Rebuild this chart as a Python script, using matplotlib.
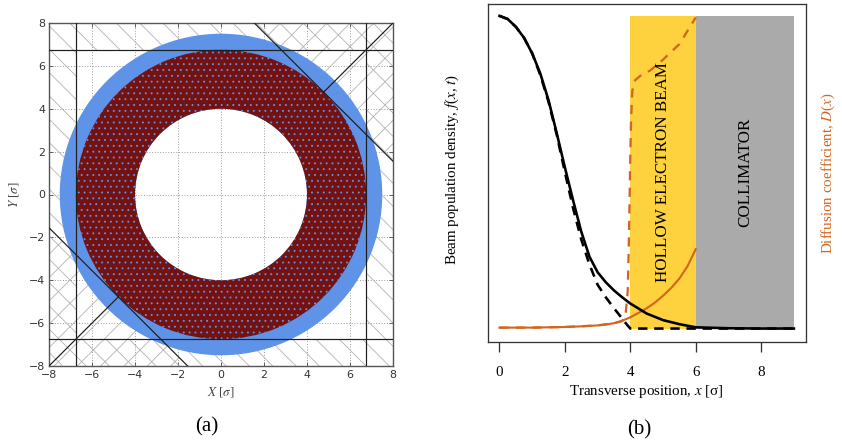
import numpy as np
import matplotlib.pyplot as plt
from matplotlib.patches import Wedge, Rectangle, Polygon

DPI = 70


def pt(px):
    # pixel size -> points at this dpi
    return px * 72 / DPI


plt.rcParams['font.family'] = ['Liberation Serif', 'DejaVu Serif']
plt.rcParams['mathtext.fontset'] = 'stix'
plt.rcParams['hatch.linewidth'] = pt(0.8)

# ---- (a) transverse beam cross-section [sigma] ----
lim_a = 8
ticks_a = [-8, -6, -4, -2, 0, 2, 4, 6, 8]
jaw = 6.75            # horizontal / vertical collimator half gap
skew = 9.55           # skew jaw edge: |x + y| = skew
halo_r = [4.0, 7.5]   # hollow halo: inner / outer radius
core_r = [4.0, 6.75]  # inner / outer radius of the particle annulus

# ---- (b) profiles ----
x_f = [0, 0.25, 0.5, 0.75, 1.0, 1.25, 1.5, 1.75, 2.0, 2.25, 2.5, 2.75,
       3.0, 3.25, 3.5, 3.75, 4.0, 4.5, 5.0, 5.5, 6.0, 7.0, 8.0, 9.0]
f_solid = [1.0, 0.99, 0.965, 0.93, 0.88, 0.815, 0.73, 0.625, 0.515, 0.41,
           0.31, 0.23, 0.18, 0.148, 0.122, 0.10, 0.08, 0.048, 0.027, 0.014,
           0.004, 0.001, 0.0, 0.0]
x_fd = [0, 0.25, 0.5, 0.75, 1.0, 1.25, 1.5, 1.75, 2.0, 2.25, 2.5, 2.75,
        3.0, 3.25, 3.5, 3.75, 3.9, 4.0, 5.0, 6.0, 7.0, 8.0, 9.0]
f_dash = [1.0, 0.99, 0.965, 0.93, 0.88, 0.81, 0.725, 0.62, 0.50, 0.385,
          0.285, 0.205, 0.14, 0.10, 0.065, 0.032, 0.012, 0.0, 0.0, 0.0,
          0.0, 0.0, 0.0]
x_D = [0, 0.5, 1.0, 1.5, 2.0, 2.5, 3.0, 3.25, 3.5, 3.75, 4.0, 4.25, 4.5,
       4.75, 5.0, 5.25, 5.5, 5.75, 6.0]
D_solid = [0.003, 0.003, 0.003, 0.004, 0.005, 0.007, 0.01, 0.013, 0.017,
           0.025, 0.036, 0.05, 0.065, 0.083, 0.105, 0.13, 0.16, 0.2, 0.254]
x_Dd = [0, 1.0, 2.0, 3.0, 3.5, 3.75, 3.85, 3.92, 3.96, 3.99, 4.02, 4.06,
        4.15, 4.3, 4.6, 5.0, 5.5, 6.0]
D_dash = [0.003, 0.003, 0.005, 0.01, 0.017, 0.024, 0.04, 0.12, 0.3, 0.5,
          0.66, 0.76, 0.795, 0.808, 0.825, 0.86, 0.91, 0.995]
hebl_band = [4, 6]
coll_band = [6, 9]
xticks_b = [0, 2, 4, 6, 8]

fig = plt.figure(figsize=(842 / DPI, 443 / DPI), dpi=DPI)

# ================= (a) =================
ax = fig.add_axes([49 / 842, 77 / 443, 344 / 842, 343 / 443])
ax.set_xlim(-lim_a, lim_a)
ax.set_ylim(-lim_a, lim_a)

hatch_col = '#b0b0b0'
# hatched jaw areas (single hatch outside the square aperture)
for (x0, y0, w, h) in [(-lim_a, jaw, 2 * lim_a, lim_a - jaw),
                       (-lim_a, -lim_a, 2 * lim_a, lim_a - jaw),
                       (-lim_a, -jaw, lim_a - jaw, 2 * jaw),
                       (jaw, -jaw, lim_a - jaw, 2 * jaw)]:
    ax.add_patch(Rectangle((x0, y0), w, h, facecolor='none', hatch='\\',
                           edgecolor=hatch_col, linewidth=0, zorder=1))
# skew jaws
for s in [1, -1]:
    tri = [(s * (skew - lim_a), s * lim_a), (s * lim_a, s * lim_a),
           (s * lim_a, s * (skew - lim_a))]
    ax.add_patch(Polygon(tri, closed=True, facecolor='none', hatch='/',
                         edgecolor=hatch_col, linewidth=0, zorder=1))

blue = '#5f93e8'
ax.add_patch(Wedge((0, 0), halo_r[1], 0, 360, width=halo_r[1] - halo_r[0],
                   facecolor=blue, edgecolor='none', zorder=2))
ax.add_patch(Wedge((0, 0), core_r[1], 0, 360, width=core_r[1] - core_r[0],
                   facecolor='#741212', edgecolor=blue, linewidth=0,
                   hatch='..', zorder=3))

jaw_kw = dict(color='#1e1e1e', lw=pt(1.2), zorder=4)
for s in [1, -1]:
    ax.plot([-lim_a, lim_a], [s * jaw, s * jaw], **jaw_kw)
    ax.plot([s * jaw, s * jaw], [-lim_a, lim_a], **jaw_kw)
    ax.plot([s * (skew - lim_a), s * lim_a], [s * lim_a, s * (skew - lim_a)],
            **jaw_kw)
    ax.plot([s * skew / 2, s * lim_a], [s * skew / 2, s * lim_a], **jaw_kw)

ax.set_xticks(ticks_a)
ax.set_yticks(ticks_a)
ax.set_xticklabels([str(t).replace('-', '\u2212') for t in ticks_a],
                   family='DejaVu Sans')
ax.set_yticklabels([str(t).replace('-', '\u2212') for t in ticks_a],
                   family='DejaVu Sans')
ax.tick_params(direction='in', top=True, right=True, length=pt(4),
               width=pt(0.8), labelsize=pt(11), labelcolor='#333333',
               color='#444444', pad=pt(4))
ax.grid(True, linestyle=(0, (1, 2)), color='#8a8a8a', lw=pt(0.9), zorder=0)
ax.set_axisbelow(True)
for sp in ax.spines.values():
    sp.set_color('#555555')
    sp.set_linewidth(pt(1.4))
ax.text(0.5, (366 - 392) / 343, r'$X$ [$\sigma$]', transform=ax.transAxes,
        ha='center', va='center', fontsize=pt(13), color='#444444')
ax.text((14 - 49) / 344, 0.5, r'$Y$ [$\sigma$]', transform=ax.transAxes,
        ha='center', va='center', rotation=90, fontsize=pt(13),
        color='#444444')

# ================= (b) =================
bx = fig.add_axes([487.7 / 842, 101 / 443, 318 / 842, 338 / 443])
bx.set_xlim(-0.36, 9.36)
bx.set_ylim(-0.043, 1.038)

bx.add_patch(Rectangle((hebl_band[0], 0), hebl_band[1] - hebl_band[0], 1,
                       facecolor='#fdd23e', edgecolor='none', zorder=1))
bx.add_patch(Rectangle((coll_band[0], 0), coll_band[1] - coll_band[0], 1,
                       facecolor='#aaaaaa', edgecolor='none', zorder=1))
orange = '#d2661e'
bx.plot(x_Dd, D_dash, color=orange, lw=pt(2.3), dashes=(4, 3.2), zorder=2)
bx.plot(x_D, D_solid, color=orange, lw=pt(2.1), zorder=3)
bx.plot(x_fd, f_dash, color='black', lw=pt(2.6), dashes=(3.6, 2.6),
        zorder=4)
bx.plot(x_f, f_solid, color='black', lw=pt(2.6), zorder=5)

bx.text(5.0, 0.5, 'HOLLOW ELECTRON BEAM', rotation=90, ha='center',
        va='center', fontsize=pt(17), zorder=6)
bx.text(7.5, 0.5, 'COLLIMATOR', rotation=90, ha='center', va='center',
        fontsize=pt(17), zorder=6)

bx.set_xticks(xticks_b)
bx.set_yticks([])
bx.tick_params(direction='out', length=pt(10), width=pt(1.3),
               labelsize=pt(15), pad=pt(14), color='#333333')
for sp in bx.spines.values():
    sp.set_color('#333333')
    sp.set_linewidth(pt(1.3))
bx.text(0.5, (342 - 392) / 338, r'Transverse position, $x$ [σ]',
        transform=bx.transAxes, ha='center', va='center', fontsize=pt(15))
bx.text((452 - 487.7) / 318, 0.51, r'Beam population density, $f$($x$, $t$)',
        transform=bx.transAxes, ha='center', va='center', rotation=90,
        fontsize=pt(15))
bx.text((828 - 487.7) / 318, 0.5, r'Diffusion coefficient, $D$($x$)',
        transform=bx.transAxes, ha='center', va='center', rotation=90,
        fontsize=pt(15), color=orange)

fig.text(207 / 842, 1 - 427 / 443, '(a)', ha='center', va='center',
         fontsize=pt(21))
fig.text(639 / 842, 1 - 430 / 443, '(b)', ha='center', va='center',
         fontsize=pt(21))

fig.savefig('out.png', dpi=DPI)
